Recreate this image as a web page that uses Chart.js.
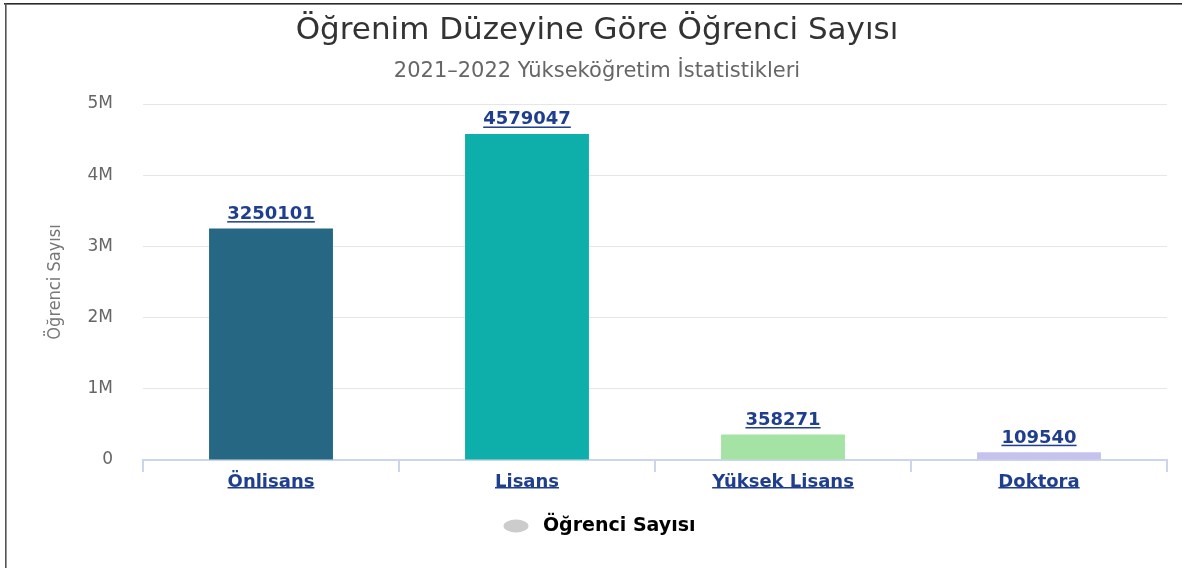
<!DOCTYPE html>
<html lang="tr">
<head>
<meta charset="utf-8">
<title>Öğrenim Düzeyine Göre Öğrenci Sayısı</title>
<script src="https://cdn.jsdelivr.net/npm/chart.js@4.4.1/dist/chart.umd.min.js"></script>
<style>
  html, body { margin: 0; padding: 0; background: #fff; }
  #wrap { width: 1182px; height: 568px; }
</style>
</head>
<body>
<div id="wrap"><canvas id="grafico" width="1182" height="568"></canvas></div>
<script>
// veriler
var categories = ['Önlisans', 'Lisans', 'Yüksek Lisans', 'Doktora'];
var values = [3250101, 4579047, 358271, 109540];
var barColors = ['#266784', '#0eafab', '#a5e3a5', '#c5c3ee'];
var yTicks = [0, 1000000, 2000000, 3000000, 4000000, 5000000];
var yTickLabels = ['0', '1M', '2M', '3M', '4M', '5M'];
var seriesName = 'Öğrenci Sayısı';
var chartTitle = 'Öğrenim Düzeyine Göre Öğrenci Sayısı';
var chartSubtitle = '2021–2022 Yükseköğretim İstatistikleri';

var family = "'DejaVu Sans', Verdana, sans-serif";
var linkColor = '#1f3e8e';

Chart.defaults.font.family = family;

// legend icon (gray ellipse)
var legendDot = document.createElement('canvas');
legendDot.width = 26;
legendDot.height = 14;
var dctx = legendDot.getContext('2d');
dctx.fillStyle = '#cccccc';
dctx.beginPath();
dctx.ellipse(13, 7, 12.5, 6.5, 0, 0, Math.PI * 2);
dctx.fill();

// frame lines like the screenshot
var framePlugin = {
  id: 'frame',
  beforeDraw: function(chart) {
    var ctx = chart.ctx;
    ctx.save();
    ctx.fillStyle = '#fff';
    ctx.fillRect(0, 0, chart.width, chart.height);
    ctx.fillStyle = '#2a2a2a';
    ctx.fillRect(4, 3, chart.width - 4, 1.6);
    ctx.fillStyle = '#555';
    ctx.fillRect(5, 3, 1.6, chart.height - 3);
    ctx.restore();
  }
};

// value labels over bars + underline of category labels
var linkPlugin = {
  id: 'links',
  afterDatasetsDraw: function(chart) {
    var ctx = chart.ctx;
    var meta = chart.getDatasetMeta(0);
    ctx.save();
    ctx.font = 'bold 18px ' + family;
    ctx.fillStyle = linkColor;
    ctx.textAlign = 'center';
    ctx.textBaseline = 'alphabetic';
    for (var i = 0; i < values.length; i++) {
      var bar = meta.data[i];
      var txt = String(values[i]);
      var w = ctx.measureText(txt).width;
      ctx.fillText(txt, bar.x, bar.y - 9.5);
      ctx.fillRect(bar.x - w / 2, bar.y - 7.5, w, 1.5);
    }
    ctx.restore();
  },
  afterDraw: function(chart) {
    var ctx = chart.ctx;
    var xs = chart.scales.x;
    ctx.save();
    ctx.font = 'bold 18px ' + family;
    ctx.fillStyle = linkColor;
    for (var i = 0; i < categories.length; i++) {
      var w = ctx.measureText(categories[i]).width;
      var x = xs.getPixelForTick(i);
      ctx.fillRect(x - w / 2, xs.top + 27, w, 1.5);
    }
    ctx.restore();
  }
};

var ctx = document.getElementById('grafico').getContext('2d');
var myChart = new Chart(ctx, {
  type: 'bar',
  data: {
    labels: categories,
    datasets: [{
      label: seriesName,
      data: values,
      backgroundColor: barColors,
      borderWidth: 0,
      categoryPercentage: 1,
      barPercentage: 0.484
    }]
  },
  options: {
    responsive: false,
    animation: false,
    layout: { padding: { left: 27, right: 15, top: 0, bottom: 22.5 } },
    plugins: {
      title: {
        display: true,
        text: chartTitle,
        color: '#333',
        font: { size: 31, weight: 'normal' },
        padding: { top: 12.4, bottom: 0 }
      },
      subtitle: {
        display: true,
        text: chartSubtitle,
        color: '#666',
        font: { size: 21, weight: 'normal' },
        padding: { top: 9.8, bottom: 19.4 }
      },
      legend: {
        display: true,
        position: 'bottom',
        labels: {
          usePointStyle: true,
          pointStyleWidth: 35,
          padding: 10,
          color: '#333',
          font: { size: 19, weight: 'bold' },
          generateLabels: function() {
            return [{
              text: seriesName,
              fillStyle: '#cccccc',
              strokeStyle: '#cccccc',
              lineWidth: 0,
              pointStyle: legendDot,
              hidden: false,
              datasetIndex: 0
            }];
          }
        }
      },
      tooltip: { enabled: false }
    },
    scales: {
      x: {
        grid: {
          display: true,
          drawOnChartArea: false,
          drawTicks: true,
          tickLength: 12,
          color: '#ccd6eb',
          lineWidth: 2,
          offset: true
        },
        border: { display: true, color: '#ccd6eb', width: 2 },
        ticks: {
          color: linkColor,
          font: { size: 18, weight: 'bold' },
          padding: 0,
          maxRotation: 0,
          autoSkip: false
        },
        afterFit: function(s) { s.height = 46.5; }
      },
      y: {
        min: 0,
        max: 5000000,
        afterBuildTicks: function(s) {
          s.ticks = yTicks.map(function(v) { return { value: v }; });
        },
        ticks: {
          callback: function(v, i) { return yTickLabels[i]; },
          color: '#666',
          font: { size: 17 },
          padding: 30
        },
        grid: { color: '#e6e6e6', lineWidth: 1, drawTicks: false },
        border: { display: false },
        title: {
          display: true,
          text: seriesName,
          color: '#777',
          font: { family: "'DejaVu Sans Condensed', 'Liberation Sans Narrow', 'DejaVu Sans', sans-serif", size: 18, weight: 'normal' },
          padding: { top: 17.2, bottom: 0 }
        },
        afterFit: function(s) { s.width = 116; }
      }
    }
  },
  plugins: [framePlugin, linkPlugin]
});
</script>
</body>
</html>
